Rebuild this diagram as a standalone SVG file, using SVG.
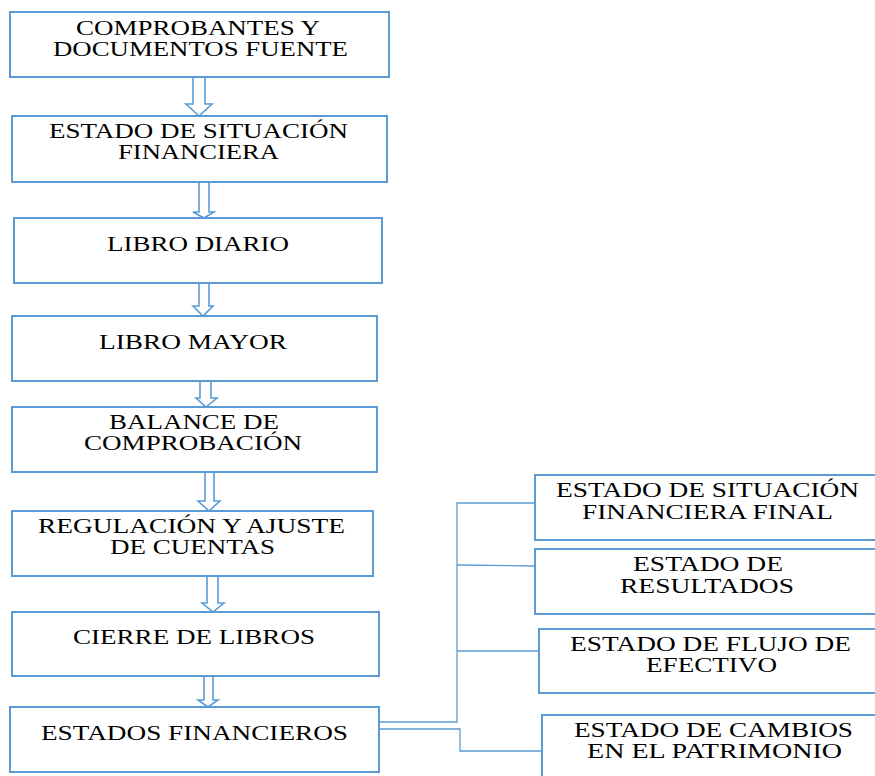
<svg xmlns="http://www.w3.org/2000/svg" width="875" height="776" viewBox="0 0 875 776">
<style>
.box{fill:#ffffff;stroke:#5B9BD5;stroke-width:2}
.t{font-family:"Liberation Serif","Times New Roman",serif;font-size:20px;fill:#000000}
.arr{fill:#ffffff;stroke:#5B9BD5;stroke-width:1.6;stroke-linejoin:miter}
.con{fill:none;stroke:#5B9BD5;stroke-width:1.3}
</style>
<rect width="875" height="776" fill="#ffffff"/>
<g id="connectors">
<path class="arr" d="M193,77 L205,77 L205,104 L212,104 L199,116 L186,104 L193,104 Z"/>
<path class="arr" d="M199,182 L209,182 L209,212 L214,212 L204,218 L193,212 L199,212 Z"/>
<path class="arr" d="M199,283 L209,283 L209,306 L213,306 L203,316 L193,306 L199,306 Z"/>
<path class="arr" d="M200,381 L211,381 L211,398 L217,398 L206,407 L196,398 L200,398 Z"/>
<path class="arr" d="M205,472 L214,472 L214,501 L220,501 L209,511 L198,501 L205,501 Z"/>
<path class="arr" d="M207,576 L218,576 L218,603 L224,603 L213,612 L202,603 L207,603 Z"/>
<path class="arr" d="M204,676 L213,676 L213,700 L218,700 L208,707 L198,700 L204,700 Z"/>
<path class="con" d="M379,722 L457,722 L457,503 L535,503"/>
<path class="con" d="M457,565 L535,566"/>
<path class="con" d="M457,651 L539,651"/>
<path class="con" d="M379,729 L460,729 L460,751 L542,751"/>
</g>
<g id="n1"><rect class="box" x="10" y="12" width="379" height="65"/>
<text class="t" x="76" y="35" textLength="244" lengthAdjust="spacingAndGlyphs">COMPROBANTES Y</text>
<text class="t" x="53" y="56" textLength="295" lengthAdjust="spacingAndGlyphs">DOCUMENTOS FUENTE</text></g>
<g id="n2"><rect class="box" x="12" y="116" width="375" height="66"/>
<text class="t" x="49" y="138" textLength="299" lengthAdjust="spacingAndGlyphs">ESTADO DE SITUACIÓN</text>
<text class="t" x="118" y="159" textLength="161" lengthAdjust="spacingAndGlyphs">FINANCIERA</text></g>
<g id="n3"><rect class="box" x="14" y="218" width="368" height="65"/>
<text class="t" x="107" y="251" textLength="182" lengthAdjust="spacingAndGlyphs">LIBRO DIARIO</text></g>
<g id="n4"><rect class="box" x="12" y="316" width="365" height="65"/>
<text class="t" x="99" y="349" textLength="188" lengthAdjust="spacingAndGlyphs">LIBRO MAYOR</text></g>
<g id="n5"><rect class="box" x="12" y="407" width="365" height="65"/>
<text class="t" x="109" y="429" textLength="170" lengthAdjust="spacingAndGlyphs">BALANCE DE</text>
<text class="t" x="84" y="450" textLength="218" lengthAdjust="spacingAndGlyphs">COMPROBACIÓN</text></g>
<g id="n6"><rect class="box" x="12" y="511" width="361" height="65"/>
<text class="t" x="38" y="533" textLength="307" lengthAdjust="spacingAndGlyphs">REGULACIÓN Y AJUSTE</text>
<text class="t" x="110" y="554" textLength="165" lengthAdjust="spacingAndGlyphs">DE CUENTAS</text></g>
<g id="n7"><rect class="box" x="12" y="612" width="367" height="64"/>
<text class="t" x="73" y="644" textLength="242" lengthAdjust="spacingAndGlyphs">CIERRE DE LIBROS</text></g>
<g id="n8"><rect class="box" x="10" y="707" width="369" height="65"/>
<text class="t" x="41" y="740" textLength="307" lengthAdjust="spacingAndGlyphs">ESTADOS FINANCIEROS</text></g>
<g id="r1"><rect class="box" x="535" y="475" width="350" height="65"/>
<text class="t" x="556" y="497" textLength="303" lengthAdjust="spacingAndGlyphs">ESTADO DE SITUACIÓN</text>
<text class="t" x="582" y="519" textLength="251" lengthAdjust="spacingAndGlyphs">FINANCIERA FINAL</text></g>
<g id="r2"><rect class="box" x="535" y="549" width="350" height="65"/>
<text class="t" x="633" y="571" textLength="150" lengthAdjust="spacingAndGlyphs">ESTADO DE</text>
<text class="t" x="620" y="593" textLength="174" lengthAdjust="spacingAndGlyphs">RESULTADOS</text></g>
<g id="r3"><rect class="box" x="539" y="629" width="346" height="64"/>
<text class="t" x="570" y="651" textLength="281" lengthAdjust="spacingAndGlyphs">ESTADO DE FLUJO DE</text>
<text class="t" x="646" y="672" textLength="131" lengthAdjust="spacingAndGlyphs">EFECTIVO</text></g>
<g id="r4"><rect class="box" x="542" y="715" width="343" height="70"/>
<text class="t" x="574" y="737" textLength="279" lengthAdjust="spacingAndGlyphs">ESTADO DE CAMBIOS</text>
<text class="t" x="587" y="758" textLength="255" lengthAdjust="spacingAndGlyphs">EN EL PATRIMONIO</text></g>
</svg>
